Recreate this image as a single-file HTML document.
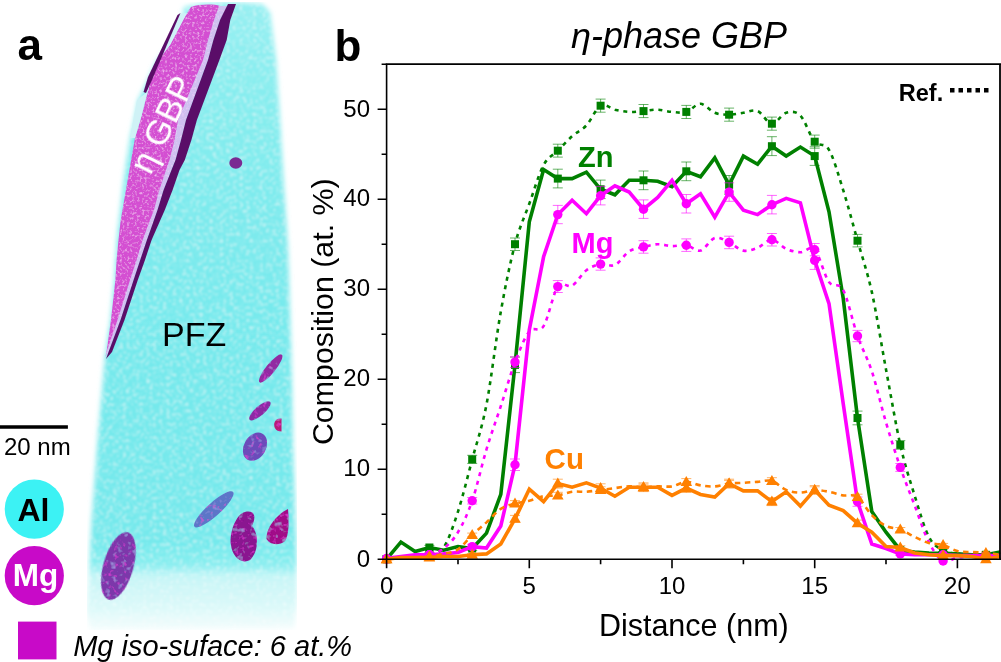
<!DOCTYPE html>
<html><head><meta charset="utf-8"><style>
html,body{margin:0;padding:0;background:#fff;}
svg{display:block;font-family:"Liberation Sans",sans-serif;}
</style></head><body>
<svg width="1001" height="662" viewBox="0 0 1001 662">

<defs>
<linearGradient id="fade" x1="0" y1="0" x2="0" y2="1">
<stop offset="0" stop-color="#96f0f2"/>
<stop offset="0.15" stop-color="#86edef"/>
<stop offset="0.35" stop-color="#7beaed"/>
<stop offset="0.6" stop-color="#74e9ec"/>
<stop offset="0.86" stop-color="#74e9ec"/>
<stop offset="0.895" stop-color="#86eef0"/>
<stop offset="0.915" stop-color="#c6f6f7"/>
<stop offset="0.965" stop-color="#dcf9f9"/>
<stop offset="1" stop-color="#f4fdfd"/>
</linearGradient>
<linearGradient id="rfade" x1="0" y1="0" x2="1" y2="0">
<stop offset="0" stop-color="#fff" stop-opacity="0"/>
<stop offset="1" stop-color="#fff" stop-opacity="0.85"/>
</linearGradient>
<filter id="blur1" x="-10%" y="-10%" width="120%" height="120%"><feGaussianBlur stdDeviation="2.6"/></filter>
<filter id="blur05" x="-10%" y="-10%" width="120%" height="120%"><feGaussianBlur stdDeviation="0.7"/></filter>
<filter id="speck" x="0" y="0" width="100%" height="100%">
<feTurbulence type="fractalNoise" baseFrequency="0.4" numOctaves="2" seed="7" result="n"/>
<feColorMatrix in="n" type="matrix" values="0 0 0 0 1  0 0 0 0 0.7  0 0 0 0 1  0 0 -1.6 0 0.78" result="w"/>
<feGaussianBlur in="w" stdDeviation="0.7" result="wb"/>
<feComposite in="wb" in2="SourceAlpha" operator="in" result="wi"/>
<feMerge><feMergeNode in="SourceGraphic"/><feMergeNode in="wi"/></feMerge>
</filter>
<filter id="mottle" x="0" y="0" width="100%" height="100%">
<feTurbulence type="fractalNoise" baseFrequency="0.18" numOctaves="2" seed="11" result="n"/>
<feColorMatrix in="n" type="matrix" values="0 0 0 0 0.36  0 0 0 0 0.36  0 0 0 0 0.8  0 0 -2.4 0 1.05" result="w"/>
<feComposite in="w" in2="SourceAlpha" operator="in" result="wi"/>
<feTurbulence type="fractalNoise" baseFrequency="0.22" numOctaves="2" seed="5" result="n2"/>
<feColorMatrix in="n2" type="matrix" values="0 0 0 0 0.78  0 0 0 0 0.05  0 0 0 0 0.7  0 0 -2.6 0 1.1" result="m"/>
<feComposite in="m" in2="SourceAlpha" operator="in" result="mi"/>
<feMerge><feMergeNode in="SourceGraphic"/><feMergeNode in="wi"/><feMergeNode in="mi"/></feMerge>
</filter>
<filter id="speck2" x="0" y="0" width="100%" height="100%">
<feTurbulence type="fractalNoise" baseFrequency="0.3" numOctaves="2" seed="3" result="n"/>
<feColorMatrix in="n" type="matrix" values="0 0 0 0 1  0 0 0 0 1  0 0 0 0 1  0 0 -1.5 0 0.75" result="w"/>
<feGaussianBlur in="w" stdDeviation="1.0" result="wb"/>
<feComposite in="wb" in2="SourceAlpha" operator="in" result="wi"/>
<feMerge><feMergeNode in="SourceGraphic"/><feMergeNode in="wi"/></feMerge>
</filter>
</defs>
<g filter="url(#speck2)"><g filter="url(#blur1)">
<path d="M184,7 L205,3 L232,2 L262,4 L270,12 L276,60 L280,121 L283.5,181 L288,250 L291,350 L293,450 L296,540 L297,600 L294,628 L90,630 L87,611 L91.7,521 L98.5,430 L103,380 L105,357 L110.5,320 L114.5,280 L117,240 L119,221 L124,178 L130,138 L135,116 L138,100 L143,90 L157,60 L170,45 L180,25 Z" fill="url(#fade)"/>
</g></g>
<g filter="url(#blur05)">
<g filter="url(#speck)">
<path d="M191.0,7.0 L184.0,18.0 L170.0,45.0 L158.5,60.0 L151.0,80.0 L145.5,100.0 L141.5,116.0 L135.0,138.0 L128.0,178.0 L120.6,221.0 L118.5,240.0 L116.6,260.0 L115.4,280.0 L111.0,320.0 L106.5,352.0 L105.5,357 L107.3,352.0 L118.3,320.0 L130.8,280.0 L137.4,260.0 L143.4,240.0 L154.7,210.0 L160.1,190.0 L166.8,170.0 L170.3,160.0 L175.3,140.0 L178.8,120.0 L203.8,60.0 L208.8,40.0 L214.8,20.0 L219.8,6.0 C214,4 200,4 191,7 Z" fill="#d450d2"/>
<path d="M219.0,6.0 L214.0,20.0 L208.0,40.0 L203.0,60.0 L178.0,120.0 L174.5,140.0 L169.5,160.0 L166.0,170.0 L159.3,190.0 L153.9,210.0 L142.6,240.0 L136.6,260.0 L130.0,280.0 L117.5,320.0 L106.5,352.0 L106.0,356.0 L108.5,352.0 L120.5,320.0 L133.6,280.0 L140.2,260.0 L146.9,240.0 L157.5,210.0 L163.6,190.0 L171.5,170.0 L175.5,160.0 L181.0,140.0 L186.0,120.0 L208.0,60.0 L213.4,40.0 L220.0,20.0 L228.0,6.0 Z" fill="#cfc0f0"/>
</g>
<path d="M228.0,4.0 L220.0,20.0 L213.4,40.0 L208.0,60.0 L186.0,120.0 L181.0,140.0 L175.5,160.0 L171.5,170.0 L163.6,190.0 L157.5,210.0 L146.9,240.0 L140.2,260.0 L133.6,280.0 L120.5,320.0 L108.5,352.0 L106.0,359.0 L112.0,352.0 L124.5,320.0 L137.8,280.0 L145.0,260.0 L151.6,240.0 L164.8,210.0 L172.6,190.0 L179.5,170.0 L184.8,160.0 L191.4,140.0 L196.9,120.0 L219.4,60.0 L226.7,40.0 L230.3,20.0 L236.0,4.0 Z" fill="#5a1068"/>
<path d="M179,14 L187,13 L170,45 L158.5,60 L151,80 L145.5,100 L141.5,116 L135,138 L130,138 L134,116 L137,100 L146,93 Z" fill="#cff2f6"/>
<path d="M177.5,15 L180.5,13 L152,80 L146,93 L143.5,92 L148,77 Z" fill="#5a1068"/>
<ellipse cx="235.8" cy="163" rx="6.5" ry="5.8" fill="#7a2c92"/>
<g filter="url(#mottle)">
<ellipse cx="270.7" cy="368.5" rx="17.8" ry="4.6" transform="rotate(-51 270.7 368.5)" fill="#922ca2"/>
<ellipse cx="259.9" cy="410.8" rx="13.6" ry="4.6" transform="rotate(-41 259.9 410.8)" fill="#8c2ca4"/>
<path d="M281.5,418.5 C276,418 274,422 274.2,425 C274.4,429 277,431.4 281.5,431.4 Z" fill="#b81a78"/>
<ellipse cx="255" cy="446.7" rx="15" ry="11" transform="rotate(-60 255 446.7)" fill="#6c4cba"/>
<ellipse cx="213.8" cy="509.3" rx="26" ry="6.6" transform="rotate(-42 213.8 509.3)" fill="#5c76c8"/>
<path d="M245,512 C254,510 257,516 252,526 C259,534 259,552 250,560 C241,565 232,556 231,545 C229,533 236,514 245,512 Z" fill="#8a1890"/>
<path d="M288,509 C289,522 289,535 285,541 C279,546 270,545 266.5,539 C266,528 276,515 288,509 Z" fill="#a01088"/>
<ellipse cx="118.4" cy="566" rx="15" ry="35" transform="rotate(16 118.4 566)" fill="#7c38aa"/>
</g>
</g>
<text transform="translate(150.5,176) rotate(-64)" font-size="35" fill="#fff">η GBP</text>
<text x="162" y="345.6" font-size="34">PFZ</text>
<path d="M0,427 H67.9" stroke="#000" stroke-width="3.4"/>
<text x="4" y="455" font-size="24">20 nm</text>
<circle cx="34.3" cy="509.1" r="29.6" fill="#3cf2f4"/>
<text x="33.4" y="521.2" font-size="32" font-weight="bold" text-anchor="middle">Al</text>
<circle cx="34.3" cy="575.7" r="29.6" fill="#c80ac8"/>
<text x="35.4" y="586" font-size="31.5" font-weight="bold" text-anchor="middle" fill="#fff">Mg</text>
<rect x="18" y="621.6" width="38.5" height="37.8" fill="#c80ac8"/>
<text x="73.2" y="655.8" font-size="29" font-style="italic">Mg iso-suface: 6 at.%</text>

<g>
<path d="M386.6,559.2 C389.0,559.0 396.1,558.1 400.9,557.5 C405.6,556.9 410.4,556.2 415.1,555.6 C419.9,555.0 424.7,555.2 429.4,553.9 C434.2,552.5 438.9,554.6 443.7,547.5 C448.4,540.5 453.2,526.2 458.0,511.6 C462.7,496.9 467.5,477.2 472.2,459.4 C477.0,441.5 481.7,429.1 486.5,404.5 C491.2,379.9 496.0,338.4 500.8,311.8 C505.5,285.1 510.3,262.2 515.0,244.2 C519.8,226.2 524.5,216.9 529.3,203.8 C534.1,190.6 538.8,173.9 543.6,165.1 C548.3,156.2 553.1,155.5 557.8,150.7 C562.6,145.9 567.4,140.5 572.1,136.2 C576.9,132.0 581.6,130.5 586.4,125.4 C591.1,120.3 595.9,108.3 600.6,105.7 C605.4,103.0 610.2,108.6 614.9,109.7 C619.7,110.7 624.4,111.7 629.2,111.9 C633.9,112.2 638.7,111.4 643.5,111.1 C648.2,110.7 653.0,109.5 657.7,109.7 C662.5,109.8 667.2,111.6 672.0,111.9 C676.8,112.3 681.5,113.3 686.3,111.9 C691.0,110.6 695.8,103.7 700.5,103.8 C705.3,104.0 710.1,111.0 714.8,112.8 C719.6,114.6 724.3,114.7 729.1,114.7 C733.8,114.7 738.6,113.4 743.4,112.8 C748.1,112.2 752.9,109.2 757.6,111.1 C762.4,112.9 767.1,123.4 771.9,123.7 C776.6,124.0 781.4,114.2 786.2,112.8 C790.9,111.5 795.7,110.8 800.4,115.6 C805.2,120.4 809.9,136.0 814.7,141.7 C819.5,147.4 824.2,141.7 829.0,149.8 C833.7,157.8 838.5,175.1 843.2,190.2 C848.0,205.4 852.8,223.7 857.5,240.7 C862.3,257.6 867.0,270.5 871.8,291.9 C876.5,313.4 881.3,343.9 886.0,369.4 C890.8,394.9 895.6,423.9 900.3,444.9 C905.1,465.9 909.8,480.1 914.6,495.4 C919.3,510.7 924.1,527.6 928.9,536.8 C933.6,545.9 938.4,547.4 943.1,550.2 C947.9,553.1 952.6,553.1 957.4,553.9 C962.2,554.6 966.9,554.5 971.7,554.8 C976.4,555.0 981.2,555.6 985.9,555.6 C990.7,555.6 997.8,554.9 1000.2,554.8" stroke="#008000" stroke-width="2.6" fill="none" stroke-dasharray="4 4.8"/>
<path d="M386.6,559.2 L400.9,542.1 L415.1,551.6 L429.4,547.5 L443.7,550.2 L458.0,546.6 L472.2,548.5 L486.5,533.1 L500.8,494.4 L515.0,364.9 L529.3,221.8 L543.6,169.6 L557.8,178.6 L572.1,178.6 L586.4,172.2 L600.6,189.3 L614.9,194.8 L629.2,180.3 L643.5,180.3 L657.7,181.2 L672.0,186.7 L686.3,171.3 L700.5,176.8 L714.8,157.8 L729.1,184.8 L743.4,156.1 L757.6,164.2 L771.9,146.2 L786.2,156.1 L800.4,147.1 L814.7,156.1 L829.0,211.8 L843.2,298.2 L857.5,418.0 L871.8,511.6 L886.0,532.2 L900.3,550.2 L914.6,552.0 L928.9,553.0 L943.1,553.4 L957.4,553.9 L971.7,554.8 L985.9,554.8 L1000.2,552.0" stroke="#008000" stroke-width="3.6" fill="none" stroke-linejoin="miter"/>
<path d="M429.4,552.8 V554.9 M424.4,552.8 H434.4 M424.4,554.9 H434.4 M472.2,455.3 V463.4 M467.2,455.3 H477.2 M467.2,463.4 H477.2 M515.0,238.0 V250.5 M510.0,238.0 H520.0 M510.0,250.5 H520.0 M557.8,144.2 V157.1 M552.8,144.2 H562.8 M552.8,157.1 H562.8 M600.6,99.1 V112.2 M595.6,99.1 H605.6 M595.6,112.2 H605.6 M643.5,104.5 V117.6 M638.5,104.5 H648.5 M638.5,117.6 H648.5 M686.3,105.4 V118.5 M681.3,105.4 H691.3 M681.3,118.5 H691.3 M729.1,108.1 V121.2 M724.1,108.1 H734.1 M724.1,121.2 H734.1 M771.9,117.1 V130.2 M766.9,117.1 H776.9 M766.9,130.2 H776.9 M814.7,135.1 V148.2 M809.7,135.1 H819.7 M809.7,148.2 H819.7 M857.5,234.4 V246.9 M852.5,234.4 H862.5 M852.5,246.9 H862.5 M900.3,440.6 V449.3 M895.3,440.6 H905.3 M895.3,449.3 H905.3 M943.1,549.0 V551.5 M938.1,549.0 H948.1 M938.1,551.5 H948.1 M985.9,554.8 V556.5 M980.9,554.8 H990.9 M980.9,556.5 H990.9" stroke="#008000" stroke-width="1.0" fill="none" opacity="0.6"/>
<path d="M429.4,545.4 V549.7 M424.4,545.4 H434.4 M424.4,549.7 H434.4 M472.2,546.4 V550.5 M467.2,546.4 H477.2 M467.2,550.5 H477.2 M515.0,357.1 V372.6 M510.0,357.1 H520.0 M510.0,372.6 H520.0 M557.8,169.2 V187.9 M552.8,169.2 H562.8 M552.8,187.9 H562.8 M600.6,180.1 V198.6 M595.6,180.1 H605.6 M595.6,198.6 H605.6 M643.5,171.0 V189.7 M638.5,171.0 H648.5 M638.5,189.7 H648.5 M686.3,162.0 V180.7 M681.3,162.0 H691.3 M681.3,180.7 H691.3 M729.1,175.5 V194.2 M724.1,175.5 H734.1 M724.1,194.2 H734.1 M771.9,136.7 V155.6 M766.9,136.7 H776.9 M766.9,155.6 H776.9 M814.7,146.7 V165.4 M809.7,146.7 H819.7 M809.7,165.4 H819.7 M857.5,411.1 V424.8 M852.5,411.1 H862.5 M852.5,424.8 H862.5 M900.3,548.4 V552.1 M895.3,548.4 H905.3 M895.3,552.1 H905.3 M943.1,551.9 V554.9 M938.1,551.9 H948.1 M938.1,554.9 H948.1 M985.9,553.4 V556.1 M980.9,553.4 H990.9 M980.9,556.1 H990.9" stroke="#008000" stroke-width="1.0" fill="none" opacity="0.6"/>
<rect x="382.6" y="555.2" width="8.0" height="8.0" fill="#008000"/><rect x="425.4" y="549.9" width="8.0" height="8.0" fill="#008000"/><rect x="468.2" y="455.4" width="8.0" height="8.0" fill="#008000"/><rect x="511.0" y="240.2" width="8.0" height="8.0" fill="#008000"/><rect x="553.8" y="146.7" width="8.0" height="8.0" fill="#008000"/><rect x="596.6" y="101.7" width="8.0" height="8.0" fill="#008000"/><rect x="639.5" y="107.1" width="8.0" height="8.0" fill="#008000"/><rect x="682.3" y="107.9" width="8.0" height="8.0" fill="#008000"/><rect x="725.1" y="110.7" width="8.0" height="8.0" fill="#008000"/><rect x="767.9" y="119.7" width="8.0" height="8.0" fill="#008000"/><rect x="810.7" y="137.7" width="8.0" height="8.0" fill="#008000"/><rect x="853.5" y="236.7" width="8.0" height="8.0" fill="#008000"/><rect x="896.3" y="440.9" width="8.0" height="8.0" fill="#008000"/><rect x="939.1" y="546.2" width="8.0" height="8.0" fill="#008000"/><rect x="981.9" y="551.6" width="8.0" height="8.0" fill="#008000"/>
<rect x="382.6" y="555.2" width="8.0" height="8.0" fill="#008000"/><rect x="425.4" y="543.5" width="8.0" height="8.0" fill="#008000"/><rect x="468.2" y="544.5" width="8.0" height="8.0" fill="#008000"/><rect x="511.0" y="360.9" width="8.0" height="8.0" fill="#008000"/><rect x="553.8" y="174.6" width="8.0" height="8.0" fill="#008000"/><rect x="596.6" y="185.3" width="8.0" height="8.0" fill="#008000"/><rect x="639.5" y="176.3" width="8.0" height="8.0" fill="#008000"/><rect x="682.3" y="167.3" width="8.0" height="8.0" fill="#008000"/><rect x="725.1" y="180.8" width="8.0" height="8.0" fill="#008000"/><rect x="767.9" y="142.2" width="8.0" height="8.0" fill="#008000"/><rect x="810.7" y="152.1" width="8.0" height="8.0" fill="#008000"/><rect x="853.5" y="414.0" width="8.0" height="8.0" fill="#008000"/><rect x="896.3" y="546.2" width="8.0" height="8.0" fill="#008000"/><rect x="939.1" y="549.4" width="8.0" height="8.0" fill="#008000"/><rect x="981.9" y="550.8" width="8.0" height="8.0" fill="#008000"/>
<path d="M386.6,559.2 C389.0,559.0 396.1,557.9 400.9,557.5 C405.6,557.0 410.4,557.0 415.1,556.5 C419.9,556.1 424.7,556.1 429.4,554.8 C434.2,553.4 438.9,552.2 443.7,548.5 C448.4,544.7 453.2,540.2 458.0,532.2 C462.7,524.3 467.5,514.5 472.2,500.8 C477.0,486.9 481.7,465.2 486.5,449.4 C491.2,433.7 496.0,420.8 500.8,406.2 C505.5,391.7 510.3,374.6 515.0,362.1 C519.8,349.7 524.5,337.5 529.3,331.5 C534.1,325.5 538.8,333.6 543.6,326.1 C548.3,318.6 553.1,293.3 557.8,286.6 C562.6,279.8 567.4,288.4 572.1,285.7 C576.9,283.0 581.6,273.9 586.4,270.3 C591.1,266.7 595.9,264.9 600.6,264.1 C605.4,263.2 610.2,267.1 614.9,264.9 C619.7,262.8 624.4,254.4 629.2,251.4 C633.9,248.4 638.7,248.1 643.5,246.9 C648.2,245.8 653.0,244.4 657.7,244.2 C662.5,244.1 667.2,245.9 672.0,246.1 C676.8,246.2 681.5,244.4 686.3,245.2 C691.0,245.9 695.8,251.8 700.5,250.6 C705.3,249.3 710.1,239.3 714.8,237.9 C719.6,236.6 724.3,240.3 729.1,242.4 C733.8,244.5 738.6,249.7 743.4,250.6 C748.1,251.5 752.9,249.6 757.6,247.8 C762.4,246.0 767.1,239.6 771.9,239.8 C776.6,239.9 781.4,246.7 786.2,248.8 C790.9,250.8 795.7,252.2 800.4,252.3 C805.2,252.5 809.9,244.7 814.7,249.7 C819.5,254.6 824.2,275.3 829.0,282.1 C833.7,288.8 838.5,281.2 843.2,290.2 C848.0,299.2 852.8,322.5 857.5,336.0 C862.3,349.5 867.0,356.7 871.8,371.1 C876.5,385.6 881.3,406.4 886.0,422.5 C890.8,438.5 895.6,453.6 900.3,467.4 C905.1,481.2 909.8,492.8 914.6,505.2 C919.3,517.7 924.1,532.9 928.9,542.1 C933.6,551.4 938.4,558.5 943.1,561.0 C947.9,563.6 952.6,558.2 957.4,557.5 C962.2,556.7 966.9,556.7 971.7,556.5 C976.4,556.4 981.2,556.7 985.9,556.5 C990.7,556.4 997.8,555.8 1000.2,555.6" stroke="#ff00ff" stroke-width="2.6" fill="none" stroke-dasharray="4 4.8"/>
<path d="M386.6,558.4 L400.9,556.5 L415.1,554.8 L429.4,554.8 L443.7,553.9 L458.0,552.5 L472.2,546.6 L486.5,548.0 L500.8,526.0 L515.0,464.8 L529.3,329.8 L543.6,256.8 L557.8,214.6 L572.1,200.2 L586.4,213.7 L600.6,195.7 L614.9,185.8 L629.2,192.1 L643.5,209.2 L657.7,197.4 L672.0,180.3 L686.3,203.8 L700.5,193.8 L714.8,217.2 L729.1,192.1 L743.4,210.1 L757.6,214.6 L771.9,204.7 L786.2,198.3 L800.4,202.8 L814.7,260.4 L829.0,303.6 L843.2,403.5 L857.5,501.6 L871.8,544.0 L886.0,548.5 L900.3,553.9 L914.6,554.8 L928.9,554.8 L943.1,554.8 L957.4,555.6 L971.7,555.6 L985.9,555.6 L1000.2,555.6" stroke="#ff00ff" stroke-width="3.6" fill="none" stroke-linejoin="miter"/>
<path d="M429.4,553.8 V555.7 M424.4,553.8 H434.4 M424.4,555.7 H434.4 M472.2,497.5 V504.0 M467.2,497.5 H477.2 M467.2,504.0 H477.2 M515.0,356.8 V367.5 M510.0,356.8 H520.0 M510.0,367.5 H520.0 M557.8,280.6 V292.5 M552.8,280.6 H562.8 M552.8,292.5 H562.8 M600.6,257.9 V270.2 M595.6,257.9 H605.6 M595.6,270.2 H605.6 M643.5,240.7 V253.2 M638.5,240.7 H648.5 M638.5,253.2 H648.5 M686.3,238.9 V251.4 M681.3,238.9 H691.3 M681.3,251.4 H691.3 M729.1,236.2 V248.7 M724.1,236.2 H734.1 M724.1,248.7 H734.1 M771.9,233.5 V246.0 M766.9,233.5 H776.9 M766.9,246.0 H776.9 M814.7,243.5 V255.8 M809.7,243.5 H819.7 M809.7,255.8 H819.7 M857.5,330.4 V341.7 M852.5,330.4 H862.5 M852.5,341.7 H862.5 M900.3,463.5 V471.4 M895.3,463.5 H905.3 M895.3,471.4 H905.3 M985.9,555.8 V557.3 M980.9,555.8 H990.9 M980.9,557.3 H990.9" stroke="#ff00ff" stroke-width="1.0" fill="none" opacity="0.6"/>
<path d="M429.4,553.4 V556.1 M424.4,553.4 H434.4 M424.4,556.1 H434.4 M472.2,544.4 V548.9 M467.2,544.4 H477.2 M467.2,548.9 H477.2 M515.0,459.0 V470.5 M510.0,459.0 H520.0 M510.0,470.5 H520.0 M557.8,205.4 V223.7 M552.8,205.4 H562.8 M552.8,223.7 H562.8 M600.6,186.4 V204.9 M595.6,186.4 H605.6 M595.6,204.9 H605.6 M643.5,199.9 V218.4 M638.5,199.9 H648.5 M638.5,218.4 H648.5 M686.3,194.5 V213.0 M681.3,194.5 H691.3 M681.3,213.0 H691.3 M729.1,182.8 V201.3 M724.1,182.8 H734.1 M724.1,201.3 H734.1 M771.9,195.4 V213.9 M766.9,195.4 H776.9 M766.9,213.9 H776.9 M814.7,251.5 V269.4 M809.7,251.5 H819.7 M809.7,269.4 H819.7 M857.5,497.0 V506.3 M852.5,497.0 H862.5 M852.5,506.3 H862.5 M900.3,552.4 V555.3 M895.3,552.4 H905.3 M895.3,555.3 H905.3 M943.1,553.4 V556.1 M938.1,553.4 H948.1 M938.1,556.1 H948.1 M985.9,554.5 V556.8 M980.9,554.5 H990.9 M980.9,556.8 H990.9" stroke="#ff00ff" stroke-width="1.0" fill="none" opacity="0.6"/>
<circle cx="386.6" cy="559.2" r="4.7" fill="#ff00ff"/><circle cx="429.4" cy="554.8" r="4.7" fill="#ff00ff"/><circle cx="472.2" cy="500.8" r="4.7" fill="#ff00ff"/><circle cx="515.0" cy="362.1" r="4.7" fill="#ff00ff"/><circle cx="557.8" cy="286.6" r="4.7" fill="#ff00ff"/><circle cx="600.6" cy="264.1" r="4.7" fill="#ff00ff"/><circle cx="643.5" cy="246.9" r="4.7" fill="#ff00ff"/><circle cx="686.3" cy="245.2" r="4.7" fill="#ff00ff"/><circle cx="729.1" cy="242.4" r="4.7" fill="#ff00ff"/><circle cx="771.9" cy="239.8" r="4.7" fill="#ff00ff"/><circle cx="814.7" cy="249.7" r="4.7" fill="#ff00ff"/><circle cx="857.5" cy="336.0" r="4.7" fill="#ff00ff"/><circle cx="900.3" cy="467.4" r="4.7" fill="#ff00ff"/><circle cx="943.1" cy="561.0" r="4.7" fill="#ff00ff"/><circle cx="985.9" cy="556.5" r="4.7" fill="#ff00ff"/>
<circle cx="386.6" cy="558.4" r="4.7" fill="#ff00ff"/><circle cx="429.4" cy="554.8" r="4.7" fill="#ff00ff"/><circle cx="472.2" cy="546.6" r="4.7" fill="#ff00ff"/><circle cx="515.0" cy="464.8" r="4.7" fill="#ff00ff"/><circle cx="557.8" cy="214.6" r="4.7" fill="#ff00ff"/><circle cx="600.6" cy="195.7" r="4.7" fill="#ff00ff"/><circle cx="643.5" cy="209.2" r="4.7" fill="#ff00ff"/><circle cx="686.3" cy="203.8" r="4.7" fill="#ff00ff"/><circle cx="729.1" cy="192.1" r="4.7" fill="#ff00ff"/><circle cx="771.9" cy="204.7" r="4.7" fill="#ff00ff"/><circle cx="814.7" cy="260.4" r="4.7" fill="#ff00ff"/><circle cx="857.5" cy="501.6" r="4.7" fill="#ff00ff"/><circle cx="900.3" cy="553.9" r="4.7" fill="#ff00ff"/><circle cx="943.1" cy="554.8" r="4.7" fill="#ff00ff"/><circle cx="985.9" cy="555.6" r="4.7" fill="#ff00ff"/>
<path d="M386.6,559.2 C389.0,559.1 396.1,558.6 400.9,558.4 C405.6,558.1 410.4,557.8 415.1,557.5 C419.9,557.2 424.7,557.1 429.4,556.5 C434.2,555.9 438.9,555.0 443.7,553.9 C448.4,552.7 453.2,552.5 458.0,549.4 C462.7,546.2 467.5,539.5 472.2,535.0 C477.0,530.5 481.7,526.7 486.5,522.4 C491.2,518.0 496.0,512.0 500.8,508.9 C505.5,505.7 510.3,504.8 515.0,503.4 C519.8,502.1 524.5,501.9 529.3,500.8 C534.1,499.6 538.8,497.1 543.6,496.2 C548.3,495.4 553.1,496.1 557.8,495.4 C562.6,494.6 567.4,492.4 572.1,491.8 C576.9,491.1 581.6,492.1 586.4,491.8 C591.1,491.4 595.9,490.6 600.6,489.9 C605.4,489.3 610.2,488.8 614.9,488.1 C619.7,487.5 624.4,486.5 629.2,486.4 C633.9,486.2 638.7,487.2 643.5,487.2 C648.2,487.2 653.0,486.5 657.7,486.4 C662.5,486.2 667.2,487.1 672.0,486.4 C676.8,485.6 681.5,482.0 686.3,481.9 C691.0,481.7 695.8,484.7 700.5,485.4 C705.3,486.2 710.1,486.7 714.8,486.4 C719.6,486.1 724.3,484.2 729.1,483.6 C733.8,483.0 738.6,483.1 743.4,482.8 C748.1,482.4 752.9,482.2 757.6,481.9 C762.4,481.6 767.1,479.6 771.9,480.9 C776.6,482.3 781.4,488.0 786.2,489.9 C790.9,491.9 795.7,492.6 800.4,492.6 C805.2,492.6 809.9,490.1 814.7,489.9 C819.5,489.8 824.2,490.9 829.0,491.8 C833.7,492.6 838.5,494.5 843.2,495.4 C848.0,496.2 852.8,493.8 857.5,497.1 C862.3,500.4 867.0,510.3 871.8,515.1 C876.5,520.0 881.3,523.6 886.0,526.0 C890.8,528.4 895.6,527.8 900.3,529.5 C905.1,531.3 909.8,534.5 914.6,536.8 C919.3,539.0 924.1,541.7 928.9,543.0 C933.6,544.4 938.4,543.5 943.1,544.9 C947.9,546.2 952.6,550.0 957.4,551.1 C962.2,552.3 966.9,551.8 971.7,552.0 C976.4,552.3 981.2,552.5 985.9,553.0 C990.7,553.4 997.8,554.5 1000.2,554.8" stroke="#ff8000" stroke-width="2.6" fill="none" stroke-dasharray="5.5 4.5"/>
<path d="M386.6,559.2 L400.9,557.5 L415.1,557.5 L429.4,557.5 L443.7,556.5 L458.0,556.5 L472.2,554.8 L486.5,553.9 L500.8,544.0 L515.0,518.8 L529.3,489.1 L543.6,501.6 L557.8,483.6 L572.1,487.2 L586.4,482.8 L600.6,488.1 L614.9,496.2 L629.2,487.2 L643.5,487.2 L657.7,487.2 L672.0,495.4 L686.3,488.1 L700.5,494.4 L714.8,497.1 L729.1,483.6 L743.4,490.9 L757.6,490.9 L771.9,501.6 L786.2,491.8 L800.4,506.1 L814.7,489.9 L829.0,505.2 L843.2,510.6 L857.5,523.2 L871.8,532.2 L886.0,546.6 L900.3,547.5 L914.6,553.0 L928.9,554.8 L943.1,555.6 L957.4,555.6 L971.7,556.5 L985.9,559.2 L1000.2,556.5" stroke="#ff8000" stroke-width="3.6" fill="none" stroke-linejoin="miter"/>
<path d="M429.4,555.9 V557.2 M424.4,555.9 H434.4 M424.4,557.2 H434.4 M472.2,533.1 V536.8 M467.2,533.1 H477.2 M467.2,536.8 H477.2 M515.0,500.6 V506.3 M510.0,500.6 H520.0 M510.0,506.3 H520.0 M557.8,492.3 V498.4 M552.8,492.3 H562.8 M552.8,498.4 H562.8 M600.6,486.8 V493.1 M595.6,486.8 H605.6 M595.6,493.1 H605.6 M643.5,484.1 V490.4 M638.5,484.1 H648.5 M638.5,490.4 H648.5 M686.3,478.6 V485.1 M681.3,478.6 H691.3 M681.3,485.1 H691.3 M729.1,480.4 V486.9 M724.1,480.4 H734.1 M724.1,486.9 H734.1 M771.9,477.7 V484.2 M766.9,477.7 H776.9 M766.9,484.2 H776.9 M814.7,486.8 V493.1 M809.7,486.8 H819.7 M809.7,493.1 H819.7 M857.5,494.2 V500.1 M852.5,494.2 H862.5 M852.5,500.1 H862.5 M900.3,527.5 V531.6 M895.3,527.5 H905.3 M895.3,531.6 H905.3 M943.1,543.4 V546.3 M938.1,543.4 H948.1 M938.1,546.3 H948.1 M985.9,552.0 V553.9 M980.9,552.0 H990.9 M980.9,553.9 H990.9" stroke="#ff8000" stroke-width="1.0" fill="none" opacity="0.6"/>
<path d="M429.4,556.7 V558.2 M424.4,556.7 H434.4 M424.4,558.2 H434.4 M472.2,553.6 V555.9 M467.2,553.6 H477.2 M467.2,555.9 H477.2 M515.0,515.4 V522.1 M510.0,515.4 H520.0 M510.0,522.1 H520.0 M557.8,479.2 V488.1 M552.8,479.2 H562.8 M552.8,488.1 H562.8 M600.6,483.8 V492.5 M595.6,483.8 H605.6 M595.6,492.5 H605.6 M643.5,482.9 V491.6 M638.5,482.9 H648.5 M638.5,491.6 H648.5 M686.3,483.8 V492.5 M681.3,483.8 H691.3 M681.3,492.5 H691.3 M729.1,479.2 V488.1 M724.1,479.2 H734.1 M724.1,488.1 H734.1 M771.9,497.7 V505.6 M766.9,497.7 H776.9 M766.9,505.6 H776.9 M814.7,485.6 V494.3 M809.7,485.6 H819.7 M809.7,494.3 H819.7 M857.5,520.1 V526.4 M852.5,520.1 H862.5 M852.5,526.4 H862.5 M900.3,545.7 V549.4 M895.3,545.7 H905.3 M895.3,549.4 H905.3 M943.1,554.6 V556.7 M938.1,554.6 H948.1 M938.1,556.7 H948.1" stroke="#ff8000" stroke-width="1.0" fill="none" opacity="0.6"/>
<path d="M386.6,553.2 L392.4,563.2 L380.8,563.2 Z" fill="#ff8000"/><path d="M429.4,550.5 L435.2,560.5 L423.6,560.5 Z" fill="#ff8000"/><path d="M472.2,529.0 L478.0,539.0 L466.4,539.0 Z" fill="#ff8000"/><path d="M515.0,497.4 L520.8,507.4 L509.2,507.4 Z" fill="#ff8000"/><path d="M557.8,489.4 L563.6,499.4 L552.0,499.4 Z" fill="#ff8000"/><path d="M600.6,483.9 L606.4,493.9 L594.9,493.9 Z" fill="#ff8000"/><path d="M643.5,481.2 L649.3,491.2 L637.7,491.2 Z" fill="#ff8000"/><path d="M686.3,475.9 L692.1,485.9 L680.5,485.9 Z" fill="#ff8000"/><path d="M729.1,477.6 L734.9,487.6 L723.3,487.6 Z" fill="#ff8000"/><path d="M771.9,474.9 L777.7,484.9 L766.1,484.9 Z" fill="#ff8000"/><path d="M814.7,483.9 L820.5,493.9 L808.9,493.9 Z" fill="#ff8000"/><path d="M857.5,491.1 L863.3,501.1 L851.7,501.1 Z" fill="#ff8000"/><path d="M900.3,523.5 L906.1,533.5 L894.5,533.5 Z" fill="#ff8000"/><path d="M943.1,538.9 L948.9,548.9 L937.3,548.9 Z" fill="#ff8000"/><path d="M985.9,547.0 L991.7,557.0 L980.1,557.0 Z" fill="#ff8000"/>
<path d="M386.6,553.2 L392.4,563.2 L380.8,563.2 Z" fill="#ff8000"/><path d="M429.4,551.5 L435.2,561.5 L423.6,561.5 Z" fill="#ff8000"/><path d="M472.2,548.8 L478.0,558.8 L466.4,558.8 Z" fill="#ff8000"/><path d="M515.0,512.8 L520.8,522.8 L509.2,522.8 Z" fill="#ff8000"/><path d="M557.8,477.6 L563.6,487.6 L552.0,487.6 Z" fill="#ff8000"/><path d="M600.6,482.1 L606.4,492.1 L594.9,492.1 Z" fill="#ff8000"/><path d="M643.5,481.2 L649.3,491.2 L637.7,491.2 Z" fill="#ff8000"/><path d="M686.3,482.1 L692.1,492.1 L680.5,492.1 Z" fill="#ff8000"/><path d="M729.1,477.6 L734.9,487.6 L723.3,487.6 Z" fill="#ff8000"/><path d="M771.9,495.6 L777.7,505.6 L766.1,505.6 Z" fill="#ff8000"/><path d="M814.7,483.9 L820.5,493.9 L808.9,493.9 Z" fill="#ff8000"/><path d="M857.5,517.2 L863.3,527.2 L851.7,527.2 Z" fill="#ff8000"/><path d="M900.3,541.5 L906.1,551.5 L894.5,551.5 Z" fill="#ff8000"/><path d="M943.1,549.6 L948.9,559.6 L937.3,559.6 Z" fill="#ff8000"/><path d="M985.9,553.2 L991.7,563.2 L980.1,563.2 Z" fill="#ff8000"/>
</g>
<path d="M385.7,64.2 H1001.0 M1000.0,64.2 V559.2" stroke="#000" stroke-width="1.8" fill="none"/>
<path d="M386.6,64.2 V559.2 H1001.0" stroke="#000" stroke-width="1.6" fill="none"/>
<path d="M377.6,559.2 H386.6 M381.6,514.2 H386.6 M377.6,469.2 H386.6 M381.6,424.2 H386.6 M377.6,379.2 H386.6 M381.6,334.2 H386.6 M377.6,289.2 H386.6 M381.6,244.2 H386.6 M377.6,199.2 H386.6 M381.6,154.2 H386.6 M377.6,109.2 H386.6 M381.6,64.2 H386.6 M386.6,559.2 V568.2 M458.0,559.2 V564.2 M529.3,559.2 V568.2 M600.6,559.2 V564.2 M672.0,559.2 V568.2 M743.4,559.2 V564.2 M814.7,559.2 V568.2 M886.0,559.2 V564.2 M957.4,559.2 V568.2" stroke="#000" stroke-width="1.6" fill="none"/>
<text x="370" y="566.5" text-anchor="end" font-size="24">0</text>
<text x="370" y="476.4" text-anchor="end" font-size="24">10</text>
<text x="370" y="386.4" text-anchor="end" font-size="24">20</text>
<text x="370" y="296.4" text-anchor="end" font-size="24">30</text>
<text x="370" y="206.4" text-anchor="end" font-size="24">40</text>
<text x="370" y="116.5" text-anchor="end" font-size="24">50</text>
<text x="386.6" y="594.2" text-anchor="middle" font-size="24">0</text>
<text x="529.3" y="594.2" text-anchor="middle" font-size="24">5</text>
<text x="672.0" y="594.2" text-anchor="middle" font-size="24">10</text>
<text x="814.7" y="594.2" text-anchor="middle" font-size="24">15</text>
<text x="957.4" y="594.2" text-anchor="middle" font-size="24">20</text>

<text x="334.5" y="61.2" font-size="44" font-weight="bold">b</text>
<text x="17.5" y="60" font-size="44" font-weight="bold">a</text>
<text x="679" y="48.3" font-size="36" font-style="italic" text-anchor="middle">η-phase GBP</text>
<text x="898.8" y="101.2" font-size="23.5" font-weight="bold">Ref.</text>
<path d="M950,90.2 H990" stroke="#000" stroke-width="4.5" stroke-dasharray="4.5 4"/>
<text x="578" y="167" font-size="29" font-weight="bold" fill="#008000">Zn</text>
<text x="571.5" y="252.9" font-size="29" font-weight="bold" fill="#ff00ff">Mg</text>
<text x="544.6" y="468.8" font-size="29.5" font-weight="bold" fill="#ff8000">Cu</text>
<text x="693.8" y="635.5" font-size="30.5" text-anchor="middle">Distance (nm)</text>
<text transform="translate(332.6,311.7) rotate(-90)" font-size="30.4" text-anchor="middle">Composition (at. %)</text>

</svg>
</body></html>
